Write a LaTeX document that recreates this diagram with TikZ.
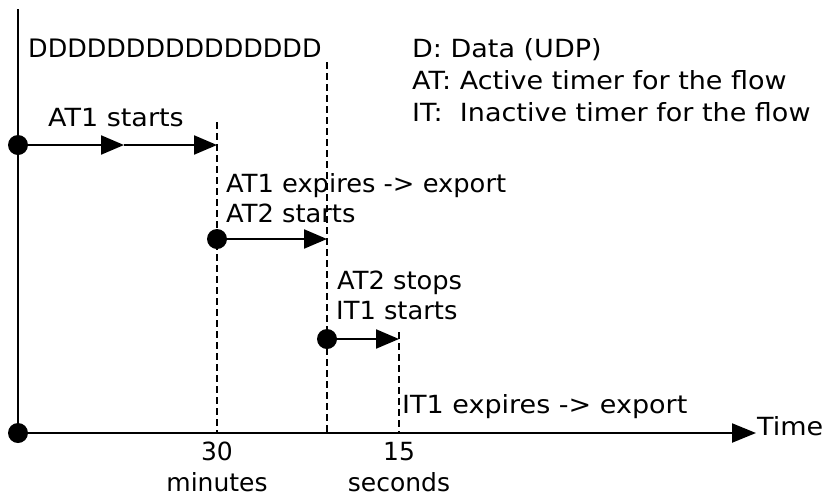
\documentclass[tikz,border=0pt]{standalone}
\usepackage{fontspec}
\setmainfont[FakeStretch=1.08]{DejaVu Sans}
\newfontfamily\plainfont{DejaVu Sans}
\newfontfamily\midfont[FakeStretch=1.03]{DejaVu Sans}
\usetikzlibrary{arrows.meta}
\begin{document}
\begin{tikzpicture}[x=1pt,y=-1pt,
  lbl/.style={anchor=base west,inner sep=0pt,font=\fontsize{25}{30}\selectfont},
  mlbl/.style={anchor=base west,inner sep=0pt,font=\midfont\fontsize{25}{30}\selectfont},
  clbl/.style={anchor=base,inner sep=0pt,font=\plainfont\fontsize{25}{30}\selectfont},
  axis/.style={line width=2.2pt},
  guide/.style={line width=2.2pt,dash pattern=on 7pt off 4pt},
  timer/.style={line width=2.2pt,-{Triangle[length=23pt,width=19pt]}},
  dot/.style={circle,fill=black,inner sep=0pt,minimum size=20pt}]
\useasboundingbox (0,0) rectangle (824,496);
% axes
\coordinate (ytop) at (18,9);
\node[dot] (o) at (18,433) {};
\coordinate (xend) at (756,433);
\draw[axis] (ytop) -- (o.center);
\draw[axis,-{Triangle[length=24pt,width=19pt]}] (o.center) -- (xend);
\node[lbl] (time) at (757,435) {Time};
% dashed guides
\coordinate (g1t) at (217,122); \coordinate (g1b) at (217,433);
\coordinate (g2t) at (327,62);  \coordinate (g2b) at (327,433);
\coordinate (g3t) at (399,332); \coordinate (g3b) at (399,433);
\draw[guide] (g1t) -- (g1b);
\draw[guide] (g2t) -- (g2b);
\draw[guide] (g3t) -- (g3b);
% timers
\node[dot] (d1) at (18,145) {};
\coordinate (m1) at (124,145);
\coordinate (e1) at (217,145);
\draw[timer] (d1.center) -- (m1);
\draw[timer] (m1) -- (e1);
\node[dot] (d2) at (217,239) {};
\coordinate (e2) at (327,239);
\draw[timer] (d2.center) -- (e2);
\node[dot] (d3) at (327,339) {};
\coordinate (e3) at (399,339);
\draw[timer] (d3.center) -- (e3);
% texts
\node[lbl,font=\plainfont\fontsize{25.4}{30}\selectfont] (data) at (28,57) {DDDDDDDDDDDDDDD};
\node[lbl] (lg1) at (412,57) {D: Data (UDP)};
\node[lbl] (lg2) at (412,89) {AT: Active timer for the flow};
\node[lbl] (lg3) at (412,121) {IT:\ \ Inactive timer for the flow};
\node[lbl] (t1) at (48,126) {AT1 starts};
\node[mlbl] (t2) at (226,192) {AT1 expires -> export};
\node[mlbl] (t3) at (226,222) {AT2 starts};
\node[mlbl] (t4) at (337,289) {AT2 stops};
\node[mlbl] (t5) at (336,319) {IT1 starts};
\node[lbl] (t6) at (402,413) {IT1 expires -> export};
\node[clbl] (n30) at (217,460) {30};
\node[clbl] (min) at (217,491) {minutes};
\node[clbl] (n15) at (399,460) {15};
\node[clbl] (sec) at (399,491) {seconds};
\end{tikzpicture}
\end{document}
